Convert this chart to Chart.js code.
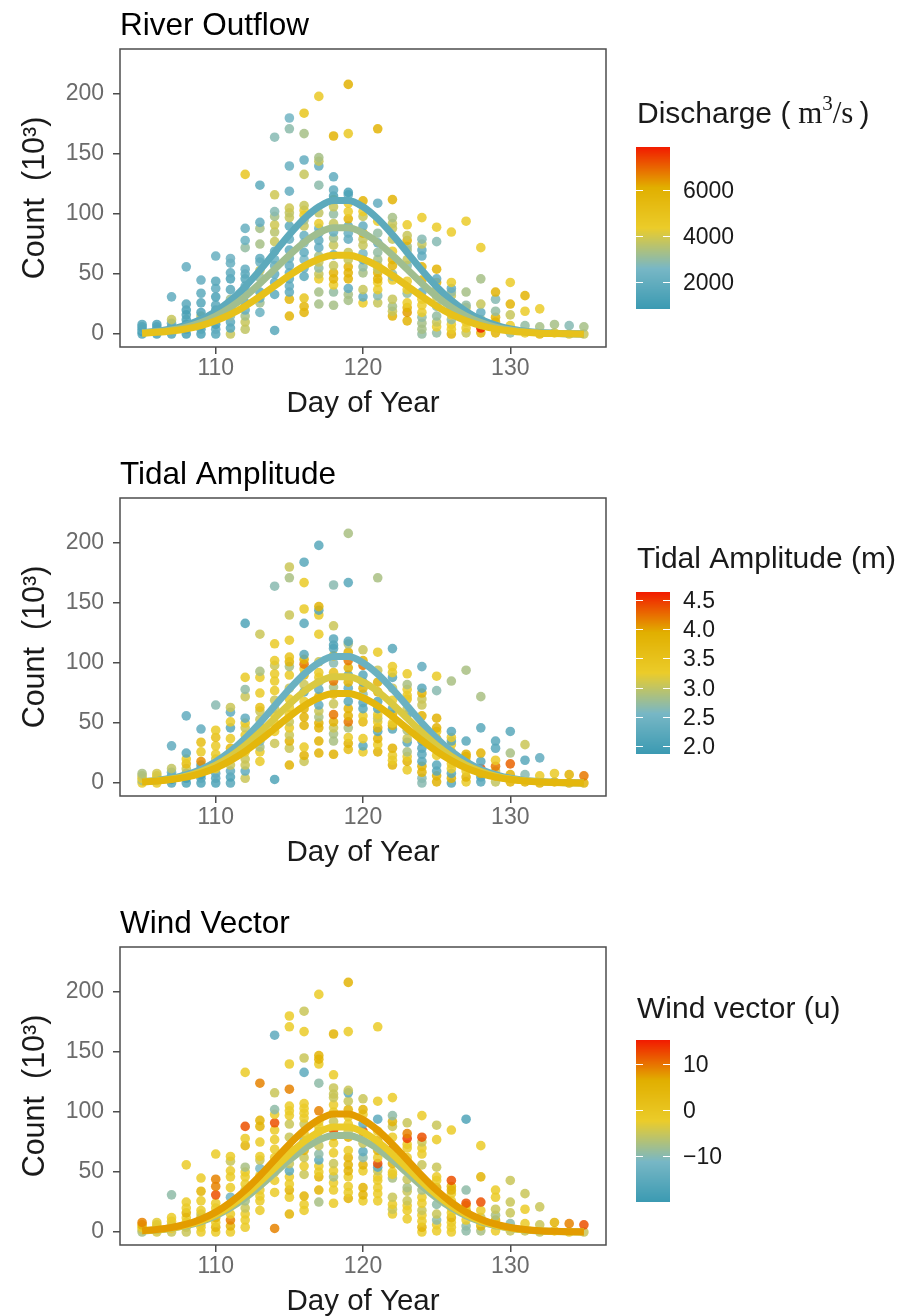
<!DOCTYPE html>
<html>
<head>
<meta charset="utf-8">
<script src="https://cdn.jsdelivr.net/npm/chart.js@4.4.0/dist/chart.umd.min.js"></script>
<style>
  html, body { margin: 0; padding: 0; background: #fff; }
  #wrap { position: relative; width: 909px; height: 1316px; overflow: hidden; }
  canvas { position: absolute; left: 0; }
</style>
</head>
<body>
<div id="wrap">
  <canvas id="c0" width="909" height="449" style="top:0px"></canvas>
  <canvas id="c1" width="909" height="449" style="top:449px"></canvas>
  <canvas id="c2" width="909" height="449" style="top:898px"></canvas>
</div>
<script>
// ---- data ----
const days = [105, 106, 107, 108, 109, 110, 111, 112, 113, 114, 115, 116, 117, 118, 119, 120,
              121, 122, 123, 124, 125, 126, 127, 128, 129, 130, 131, 132, 133, 134, 135];

// counts (10^3) per day
const counts = [
  [0, 2, 4, 6, 8],
  [0, 2, 4, 6, 8],
  [0, 3, 6, 9, 12, 31],
  [0, 4, 8, 12, 16, 20, 25, 56],
  [0, 4, 7, 12, 15, 18, 26, 34, 45],
  [0, 4, 8, 12, 16, 20, 24, 31, 38, 44, 65],
  [0, 5, 10, 15, 22, 29, 37, 46, 51, 59, 63],
  [4, 10, 15, 20, 26, 35, 40, 46, 50, 54, 72, 78, 88, 133],
  [18, 26, 30, 35, 47, 53, 60, 63, 75, 88, 93, 124],
  [3, 33, 43, 50, 57, 62, 69, 77, 85, 91, 98, 102, 116, 164],
  [15, 29, 35, 40, 46, 51, 57, 63, 70, 79, 90, 97, 101, 105, 119, 140, 171, 180],
  [18, 23, 30, 48, 55, 62, 68, 76, 82, 90, 95, 99, 103, 107, 133, 145, 167, 184],
  [25, 35, 46, 50, 55, 60, 65, 72, 78, 84, 88, 92, 101, 124, 140, 144, 147, 198],
  [24, 35, 41, 46, 51, 57, 66, 74, 80, 85, 92, 100, 106, 112, 115, 120, 131, 165],
  [28, 33, 38, 46, 51, 56, 62, 68, 79, 84, 90, 96, 102, 109, 116, 118, 167, 208],
  [26, 31, 37, 51, 56, 62, 67, 74, 79, 84, 90, 98, 102, 111],
  [26, 32, 37, 43, 46, 51, 54, 57, 62, 68, 76, 84, 94, 109, 171],
  [15, 19, 23, 29, 45, 48, 50, 57, 62, 69, 79, 88, 92, 97, 112],
  [11, 18, 22, 26, 34, 37, 44, 57, 62, 70, 73, 78, 82, 91],
  [0, 4, 9, 14, 18, 24, 29, 35, 45, 56, 65, 70, 75, 79, 97],
  [1, 6, 10, 15, 23, 31, 37, 43, 46, 54, 77, 89],
  [0, 4, 8, 12, 16, 20, 26, 32, 35, 38, 43, 85],
  [1, 5, 10, 15, 18, 22, 24, 35, 94],
  [1, 5, 8, 12, 18, 25, 46, 72],
  [1, 6, 10, 14, 19, 29, 35],
  [1, 7, 16, 25, 43],
  [1, 7, 19, 32],
  [0, 6, 21],
  [1, 8],
  [0, 7],
  [0, 6]
];

// discharge (m3/s) for each point
const discharge = [
  [1500, 1200, 1800, 1400, 1600],
  [1300, 1700, 1500, 1900, 1400],
  [1500, 1800, 1300, 2000, 3800, 1900],
  [1200, 1400, 1100, 1300, 1500, 1200, 1700, 2000],
  [1300, 1600, 1200, 1500, 3600, 1400, 1600, 1800, 2000],
  [1600, 1900, 1300, 1500, 1200, 1400, 1700, 1300, 1900, 1700, 2100],
  [3800, 1600, 1800, 2900, 1500, 3200, 1700, 1400, 1900, 2100, 2300],
  [3700, 3800, 3300, 2100, 1800, 1700, 1900, 1600, 1800, 2000, 3000, 2200, 2100, 4700],
  [2200, 3200, 2000, 1800, 3000, 3800, 2200, 1900, 3300, 3300, 2000, 1800],
  [1700, 1800, 2000, 1900, 2100, 2200, 1800, 3800, 3600, 3900, 3300, 2800, 3900, 2800],
  [5800, 5600, 1900, 2000, 1800, 2100, 2000, 2200, 1900, 2000, 1800, 3800, 3700, 3900, 2000, 2100, 2900, 2400],
  [5800, 5600, 4800, 1800, 2000, 2600, 1900, 2700, 2100, 3800, 3300, 4400, 4400, 3800, 3800, 2000, 3300, 4800],
  [3300, 3300, 4400, 3800, 3000, 3800, 3300, 2000, 1900, 2100, 2200, 4400, 3700, 2900, 2000, 3800, 3300, 4600],
  [3300, 3000, 4400, 5800, 5800, 3800, 2000, 3800, 3300, 2100, 3800, 3000, 3800, 3800, 1300, 1900, 1900, 5800],
  [3300, 3300, 1900, 5800, 5800, 5800, 3800, 3800, 2000, 2100, 1900, 5800, 4400, 4400, 2000, 1300, 4600, 6000],
  [4400, 1900, 3800, 3300, 3000, 2000, 2600, 3800, 3800, 5800, 2000, 3800, 4400, 5800],
  [3800, 2800, 4400, 4400, 5800, 5800, 3800, 3800, 3300, 3000, 2000, 3000, 4400, 2000, 5800],
  [5800, 3800, 3300, 3800, 4400, 3000, 3000, 5800, 5800, 4400, 3800, 3800, 3800, 3300, 5800],
  [5800, 6300, 5800, 4400, 3000, 4400, 4400, 2800, 3800, 3300, 3300, 5800, 3800, 4400],
  [3000, 3300, 3300, 3000, 4400, 4400, 4400, 2000, 5800, 5800, 2000, 1900, 3800, 2800, 4400],
  [3000, 4400, 3800, 3000, 3000, 3800, 3800, 5800, 2000, 5800, 2800, 4400],
  [5800, 4400, 4400, 3000, 4400, 3800, 5800, 3800, 3000, 2000, 4400, 4400],
  [3800, 4400, 4400, 3000, 3800, 3800, 3000, 3300, 4400],
  [5800, 7800, 2000, 3300, 2000, 3800, 3300, 4400],
  [5800, 3800, 5800, 5800, 3000, 2800, 5800],
  [3000, 4400, 3800, 5800, 4400],
  [4400, 3000, 4400, 5800],
  [5800, 3300, 4400],
  [4400, 3300],
  [4400, 2800],
  [3800, 3300]
];

// tidal amplitude (m) for each point
const tidal = [
  [3.25, 2.85, 3.25, 3.05, 2.85],
  [3.3, 3.2, 3.4, 3.3, 3.1],
  [2.2, 2.0, 2.3, 2.4, 3.0, 2.3],
  [2.1, 2.0, 2.2, 3.05, 3.6, 3.3, 2.2, 2.3],
  [2.1, 2.2, 2.0, 2.3, 2.2, 4.1, 3.3, 3.6, 2.3],
  [2.1, 2.2, 2.3, 3.3, 3.05, 3.1, 3.3, 3.3, 3.55, 3.3, 2.65],
  [2.2, 2.1, 2.3, 3.05, 3.3, 3.7, 3.3, 2.2, 3.3, 2.3, 3.05],
  [3.05, 2.3, 3.05, 3.05, 3.3, 3.05, 3.3, 3.05, 3.3, 2.3, 3.05, 2.7, 3.3, 2.1],
  [3.3, 3.3, 2.85, 2.6, 3.3, 3.05, 3.05, 3.55, 3.3, 3.3, 2.85, 3.05],
  [2.1, 3.05, 3.3, 3.3, 3.3, 3.05, 3.05, 3.3, 3.3, 3.3, 3.05, 3.3, 3.3, 2.65],
  [3.85, 3.05, 3.85, 3.05, 3.3, 3.05, 3.3, 3.3, 3.3, 3.05, 3.3, 2.85, 3.8, 3.5, 3.3, 3.05, 2.85, 3.05],
  [3.05, 3.85, 3.3, 3.85, 3.85, 3.85, 3.3, 2.2, 3.05, 3.8, 3.3, 4.2, 3.85, 2.2, 2.2, 3.3, 3.3, 2.2],
  [3.85, 3.85, 3.85, 3.85, 2.85, 3.05, 2.3, 3.85, 2.3, 2.65, 3.3, 3.3, 3.05, 3.3, 3.3, 2.2, 3.85, 2.2],
  [3.85, 2.85, 2.85, 3.05, 3.85, 4.2, 3.05, 3.85, 2.85, 4.2, 3.55, 2.65, 3.85, 2.2, 2.1, 2.2, 3.05, 2.65],
  [3.6, 3.85, 3.3, 2.85, 4.2, 3.85, 3.85, 2.2, 2.3, 3.85, 2.2, 3.85, 4.2, 3.85, 2.85, 2.2, 2.2, 2.85],
  [3.3, 2.2, 3.3, 3.7, 3.3, 2.2, 2.2, 2.65, 3.85, 2.3, 2.2, 4.2, 3.85, 3.05],
  [3.85, 3.3, 3.85, 2.2, 3.85, 3.3, 3.05, 3.3, 2.2, 2.2, 3.85, 3.85, 3.05, 3.3, 2.85],
  [3.85, 3.3, 3.3, 3.85, 2.2, 3.85, 3.3, 3.85, 2.2, 3.3, 3.05, 2.2, 3.3, 3.3, 2.2],
  [3.3, 3.85, 3.3, 2.85, 2.2, 3.05, 2.85, 2.2, 3.05, 3.55, 3.3, 3.3, 2.85, 3.3],
  [2.65, 2.65, 3.85, 3.85, 2.2, 2.2, 2.2, 2.2, 2.2, 3.85, 3.05, 3.05, 3.85, 2.2, 2.3],
  [3.85, 3.85, 2.2, 2.2, 3.3, 3.3, 3.85, 3.3, 3.85, 3.85, 2.65, 3.3],
  [2.2, 3.85, 2.2, 3.3, 3.3, 3.85, 3.85, 3.3, 2.2, 3.3, 2.2, 2.85],
  [3.3, 3.85, 3.3, 4.2, 3.3, 3.85, 3.85, 2.2, 2.85],
  [2.2, 2.2, 3.85, 4.4, 2.2, 3.85, 2.2, 2.85],
  [3.0, 3.85, 3.05, 4.2, 3.3, 2.2, 2.2],
  [3.85, 3.85, 4.3, 2.85, 2.2],
  [3.85, 2.65, 2.2, 3.05],
  [3.85, 3.3, 2.3],
  [3.85, 3.3],
  [3.85, 3.85],
  [3.85, 4.2]
];

// wind vector (u) for each point
const wind = [
  [-7.5, -5, -2, 5, 9],
  [-4, -2, -5, -1, -3],
  [-5, -2, -5, -2, -2, -9.5],
  [-5, -5, -2, -2, 5, -2, -2, -2],
  [-2, -2, -2, 5, -5, -2, -2, 5, -2],
  [-2, 5, -2, 5, -2, -2, -2, 12, 9, 9, -2],
  [-2, 5, 9, -2, 5, -12, -2, -2, -2, -5, -2],
  [-2, -2, -2, -5, -7.5, -5, -2, -2, -2, -7.5, 5, -2, 12, -2],
  [-2, -2, -2, -2, -2, -11, -5, -2, -2, 5, 5, 9],
  [9, -2, -2, -5, -2, -2, -2, -2, -2, 12, -2, -9.5, -5, -15],
  [5, -2, 5, -2, -2, -15, -5, -2, -2, -5, -5, -2, -2, -2, 9, -2, -2, -2],
  [-2, -2, 5, -5, -2, -5, 5, -9.5, -2, -5, -2, -2, -2, -2, -15, -5, -2, -5],
  [-7.5, 5, 5, -2, -2, -15, -9.5, -5, -2, -5, -2, -2, 9, -9.5, -2, 5, 5, -2],
  [-2, -2, -2, -7.5, -2, -5, -2, -2, 5, 12, -5, -2, -2, -5, -5, -5, -2, 5],
  [5, -2, -2, -2, 5, 5, 5, -2, 5, -5, -2, -2, 5, -5, -15, -5, -2, 5],
  [-2, 5, 5, -2, 5, -9.5, -15, -5, -2, 12, -15, -2, 5, -5],
  [-2, -2, -2, -2, -2, -5, -15, 12, -2, 5, 5, -2, -15, -2, -2],
  [-2, -5, -2, -5, -7.5, -2, -2, 5, -5, 12, -2, -5, 5, -9.5, -2],
  [-2, -2, -2, -5, -5, -7.5, -5, -5, -2, -2, -2, 13, 9, -5],
  [-2, 5, -2, -2, -5, -2, -2, -7.5, -15, -5, -2, -2, -5, 12, -2],
  [-2, -2, -9.5, -5, -9.5, -2, 5, -2, -2, -5, -2, -5],
  [-2, -2, -2, 5, -2, -2, -2, -2, 5, 5, 12, -2],
  [-9.5, -9.5, -2, -2, 5, -2, 12, -9.5, -17],
  [-7.5, 5, -2, -5, -2, 12, 5, -2],
  [-2, -5, 5, -7.5, -5, -2, -2],
  [-5, -9.5, -5, -5, -5],
  [-5, -2, -2, -5],
  [-5, -5, -5],
  [-2, 5],
  [-2, 9],
  [-5, 12]
];

// fitted curves, one value per day, and the colour level each is drawn in
const dischargeLevels = [1800, 3200, 5000];
const dischargeFits = [
  [1.2, 2.4, 4.3, 7.4, 12.1, 18.8, 27.9, 39.4, 53.1, 68.0, 82.8, 96.0, 106.0, 111.3, 111.3, 106.0, 96.0, 82.8, 68.0, 53.1, 39.4, 27.9, 18.8, 12.1, 7.4, 4.3, 2.4, 1.2, 0.6, 0.3, 0.1],
  [1.0, 1.9, 3.4, 5.8, 9.6, 15.0, 22.2, 31.3, 42.2, 54.0, 65.8, 76.3, 84.2, 88.5, 88.5, 84.2, 76.3, 65.8, 54.0, 42.2, 31.3, 22.2, 15.0, 9.6, 5.8, 3.4, 1.9, 1.0, 0.5, 0.2, 0.1],
  [0.7, 1.4, 2.5, 4.3, 7.1, 11.1, 16.4, 23.2, 31.3, 40.1, 48.8, 56.6, 62.4, 65.6, 65.6, 62.4, 56.6, 48.8, 40.1, 31.3, 23.2, 16.4, 11.1, 7.1, 4.3, 2.5, 1.4, 0.7, 0.4, 0.2, 0.1]
];
const tidalLevels = [2.4, 3.15, 3.75];
const tidalFits = [
  [1.2, 2.2, 4.0, 7.0, 11.4, 17.8, 26.4, 37.3, 50.2, 64.3, 78.3, 90.8, 100.3, 105.4, 105.4, 100.3, 90.8, 78.3, 64.3, 50.2, 37.3, 26.4, 17.8, 11.4, 7.0, 4.0, 2.2, 1.2, 0.6, 0.3, 0.1],
  [1.0, 1.9, 3.4, 5.8, 9.6, 15.0, 22.2, 31.3, 42.2, 54.0, 65.8, 76.3, 84.2, 88.5, 88.5, 84.2, 76.3, 65.8, 54.0, 42.2, 31.3, 22.2, 15.0, 9.6, 5.8, 3.4, 1.9, 1.0, 0.5, 0.2, 0.1],
  [0.8, 1.6, 2.9, 4.9, 8.1, 12.6, 18.7, 26.4, 35.6, 45.5, 55.4, 64.3, 71.0, 74.6, 74.6, 71.0, 64.3, 55.4, 45.5, 35.6, 26.4, 18.7, 12.6, 8.1, 4.9, 2.9, 1.6, 0.8, 0.4, 0.2, 0.1]
];
const windLevels = [-8.5, -2, 7.5];
const windFits = [
  [0.9, 1.7, 3.1, 5.3, 8.7, 13.6, 20.2, 28.5, 38.4, 49.2, 59.9, 69.4, 76.6, 80.5, 80.5, 76.6, 69.4, 59.9, 49.2, 38.4, 28.5, 20.2, 13.6, 8.7, 5.3, 3.1, 1.7, 0.9, 0.5, 0.2, 0.1],
  [1.0, 1.9, 3.4, 5.8, 9.5, 14.8, 21.9, 31.0, 41.7, 53.4, 65.0, 75.4, 83.2, 87.5, 87.5, 83.2, 75.4, 65.0, 53.4, 41.7, 31.0, 21.9, 14.8, 9.5, 5.8, 3.4, 1.9, 1.0, 0.5, 0.2, 0.1],
  [1.1, 2.1, 3.8, 6.5, 10.7, 16.6, 24.7, 34.8, 46.9, 60.1, 73.2, 84.8, 93.7, 98.4, 98.4, 93.7, 84.8, 73.2, 60.1, 46.9, 34.8, 24.7, 16.6, 10.7, 6.5, 3.8, 2.1, 1.1, 0.6, 0.3, 0.1]
];

const xTicks = [110, 120, 130];
const yTicks = [0, 50, 100, 150, 200];
const dischargeTicks = [2000, 4000, 6000];
const tidalTicks = [2.0, 2.5, 3.0, 3.5, 4.0, 4.5];
const windTicks = [-10, 0, 10];

// ---- colour scale ----
const zissou = ['#3B9AB2', '#78B7C5', '#EBCC2A', '#E1AF00', '#F21A00'];
const stops = zissou.map(h => [1, 3, 5].map(k => parseInt(h.slice(k, k + 2), 16)));

function scaleColor(v, lo, hi, alpha) {
  let t = Math.max(0, Math.min(1, (v - lo) / (hi - lo))) * (stops.length - 1);
  const i = Math.min(Math.floor(t), stops.length - 2);
  const f = t - i;
  const c = stops[i].map((s, k) => Math.round(s + (stops[i + 1][k] - s) * f));
  return `rgba(${c[0]},${c[1]},${c[2]},${alpha})`;
}

const SANS = '"Liberation Sans", Arial, sans-serif';
const SERIF = '"Liberation Serif", "Times New Roman", serif';

const panels = [
  {
    canvas: 'c0', title: 'River Outflow', values: discharge, lo: 830, hi: 7870,
    fits: dischargeFits, levels: dischargeLevels, ticks: dischargeTicks,
    labels: ['2000', '4000', '6000'], barTop: 147, legendBase: 123,
    legendTitle: [
      { text: 'Discharge (', font: '30px ' + SANS },
      { text: ' m', font: '31px ' + SERIF },
      { text: '3', font: '21px ' + SERIF, dy: -13 },
      { text: '/s', font: '31px ' + SERIF },
      { text: '\u2009)', font: '30px ' + SANS }
    ]
  },
  {
    canvas: 'c1', title: 'Tidal Amplitude', values: tidal, lo: 1.86, hi: 4.64,
    fits: tidalFits, levels: tidalLevels, ticks: tidalTicks,
    labels: ['2.0', '2.5', '3.0', '3.5', '4.0', '4.5'], barTop: 143, legendBase: 119,
    legendTitle: [{ text: 'Tidal Amplitude (m)', font: '30px ' + SANS }]
  },
  {
    canvas: 'c2', title: 'Wind Vector', values: wind, lo: -20, hi: 15.2,
    fits: windFits, levels: windLevels, ticks: windTicks,
    labels: ['\u221210', '0', '10'], barTop: 142, legendBase: 120,
    legendTitle: [{ text: 'Wind vector (u)', font: '30px ' + SANS }]
  }
];

// title, panel border and colourbar legend
function decor(p) {
  return {
    id: 'decor',
    afterDatasetsDraw(chart) {
      const { ctx, chartArea: a } = chart;
      ctx.save();
      ctx.strokeStyle = '#4d4d4d';
      ctx.lineWidth = 1.5;
      ctx.strokeRect(a.left, a.top, a.right - a.left, a.bottom - a.top);
      ctx.restore();
    },
    afterDraw(chart) {
      const ctx = chart.ctx;
      ctx.save();
      ctx.fillStyle = '#000';
      ctx.textBaseline = 'alphabetic';
      ctx.font = '31.5px ' + SANS;
      ctx.fillText(p.title, 120, 35);

      // legend title
      let x = 637;
      ctx.fillStyle = '#1a1a1a';
      p.legendTitle.forEach(seg => {
        ctx.font = seg.font;
        ctx.fillText(seg.text, x, p.legendBase + (seg.dy || 0));
        x += ctx.measureText(seg.text).width;
      });

      // colour bar
      const bx = 636, bw = 34, bh = 162, by = p.barTop;
      for (let i = 0; i < bh; i++) {
        const v = p.hi - (i + 0.5) / bh * (p.hi - p.lo);
        ctx.fillStyle = scaleColor(v, p.lo, p.hi, 1);
        ctx.fillRect(bx, by + i, bw, 1);
      }
      ctx.strokeStyle = '#fff';
      ctx.lineWidth = 1;
      ctx.font = '23px ' + SANS;
      ctx.fillStyle = '#1a1a1a';
      ctx.textBaseline = 'middle';
      p.ticks.forEach((v, k) => {
        const y = Math.round(by + (p.hi - v) / (p.hi - p.lo) * bh) + 0.5;
        ctx.beginPath();
        ctx.moveTo(bx, y); ctx.lineTo(bx + 7, y);
        ctx.moveTo(bx + bw - 7, y); ctx.lineTo(bx + bw, y);
        ctx.stroke();
        ctx.fillText(p.labels[k], 683, y + 1);
      });
      ctx.restore();
    }
  };
}

function buildDatasets(p) {
  const pts = [], cols = [];
  days.forEach((d, i) => {
    counts[i].forEach((c, j) => {
      pts.push({ x: d, y: c });
      cols.push(scaleColor(p.values[i][j], p.lo, p.hi, 0.85));
    });
  });
  const sets = [{
    type: 'scatter',
    data: pts,
    pointBackgroundColor: cols,
    pointBorderWidth: 0,
    pointRadius: 4.8,
    order: 10
  }];
  p.fits.forEach((fit, k) => {
    sets.push({
      type: 'line',
      data: days.map((d, i) => ({ x: d, y: fit[i] })),
      borderColor: scaleColor(p.levels[k], p.lo, p.hi, 1),
      borderWidth: 7,
      borderCapStyle: 'butt',
      pointRadius: 0,
      fill: false,
      cubicInterpolationMode: 'monotone',
      order: 3 - k
    });
  });
  return sets;
}

panels.forEach(p => {
  new Chart(document.getElementById(p.canvas), {
    type: 'scatter',
    data: { datasets: buildDatasets(p) },
    options: {
      responsive: false,
      animation: false,
      events: [],
      layout: { padding: { left: 0, right: 303, top: 49, bottom: 22 } },
      plugins: { legend: { display: false }, tooltip: { enabled: false } },
      scales: {
        x: {
          type: 'linear', min: 103.5, max: 136.5,
          afterBuildTicks: s => { s.ticks = xTicks.map(v => ({ value: v })); },
          afterFit: s => { s.height = 80; },
          grid: { drawOnChartArea: false, drawTicks: true, tickLength: 7, color: '#4d4d4d', lineWidth: 1.5 },
          border: { display: false },
          ticks: { color: '#6b6b6b', font: { family: SANS, size: 23 }, padding: 1, autoSkip: false, maxRotation: 0 },
          title: { display: true, text: 'Day of Year', color: '#1a1a1a', font: { family: SANS, size: 29.5 }, padding: { top: 0, bottom: 5 } }
        },
        y: {
          type: 'linear', min: -10.8, max: 237.5,
          afterBuildTicks: s => { s.ticks = yTicks.map(v => ({ value: v })); },
          afterFit: s => { s.width = 120; },
          grid: { drawOnChartArea: false, drawTicks: true, tickLength: 7, color: '#4d4d4d', lineWidth: 1.5 },
          border: { display: false },
          ticks: { color: '#6b6b6b', font: { family: SANS, size: 23 }, padding: 9 },
          title: { display: true, text: 'Count  (10\u00B3)', color: '#1a1a1a', font: { family: SANS, size: 30.5 }, padding: { top: 17, bottom: 0 } }
        }
      }
    },
    plugins: [decor(p)]
  });
});
</script>
</body>
</html>
